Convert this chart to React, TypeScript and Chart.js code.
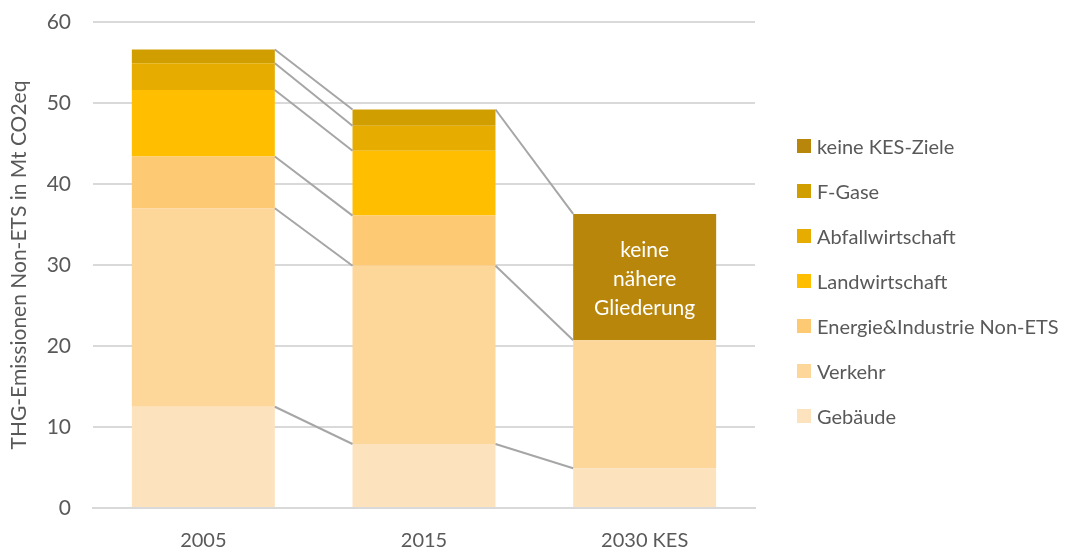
import React, { useEffect, useRef } from "react";
import { Chart, registerables } from "chart.js";

Chart.register(...registerables);

const categories = ["2005", "2015", "2030 KES"];
const seriesNames = [
  "Gebäude",
  "Verkehr",
  "Energie&Industrie Non-ETS",
  "Landwirtschaft",
  "Abfallwirtschaft",
  "F-Gase",
  "keine KES-Ziele",
];
const gebaeude = [12.5, 7.9, 4.9];
const verkehr = [24.5, 22.0, 15.8];
const energieIndustrie = [6.4, 6.2, 0];
const landwirtschaft = [8.2, 8.0, 0];
const abfallwirtschaft = [3.3, 3.1, 0];
const fGase = [1.7, 2.0, 0];
const keineKesZiele = [0, 0, 15.6];
const seriesValues = [gebaeude, verkehr, energieIndustrie, landwirtschaft, abfallwirtschaft, fGase, keineKesZiele];
const seriesColors = ["#FDE2BE", "#FDD69A", "#FDC973", "#FFBF00", "#E6AC00", "#D19E00", "#B8860B"];
const innerLabelLines = ["keine", "nähere", "Gliederung"];
const yAxisTitle = "THG-Emissionen Non-ETS in Mt CO2eq";
const yMin = 0;
const yMax = 60;
const yStep = 10;

const FONT = "Lato, 'Open Sans', sans-serif";
const TEXT = "#595959";

const connectorPlugin = {
  id: "connectors",
  afterDatasetsDraw(chart: any) {
    const ctx = chart.ctx;
    const y = chart.scales.y;
    const metas = seriesValues.map((_, k) => chart.getDatasetMeta(k));
    const n = categories.length;
    const cum = (k: number, i: number) => {
      let s = 0;
      for (let j = 0; j <= k; j++) s += seriesValues[j][i];
      return s;
    };
    const total = (i: number) => cum(seriesValues.length - 1, i);
    ctx.save();
    ctx.strokeStyle = "#A6A6A6";
    ctx.lineWidth = 2;
    for (let i = 0; i < n - 1; i++) {
      const a = metas[0].data[i].getProps(["x", "width"], true);
      const b = metas[0].data[i + 1].getProps(["x", "width"], true);
      const x1 = a.x + a.width / 2;
      const x2 = b.x - b.width / 2;
      const pairs: [number, number][] = [];
      for (let k = 0; k < seriesValues.length; k++) {
        if (seriesValues[k][i] > 0 && seriesValues[k][i + 1] > 0) {
          pairs.push([cum(k, i), cum(k, i + 1)]);
        }
      }
      const t: [number, number] = [total(i), total(i + 1)];
      if (!pairs.some((p) => Math.abs(p[0] - t[0]) < 1e-6 && Math.abs(p[1] - t[1]) < 1e-6)) pairs.push(t);
      for (const [v1, v2] of pairs) {
        ctx.beginPath();
        ctx.moveTo(x1, y.getPixelForValue(v1));
        ctx.lineTo(x2, y.getPixelForValue(v2));
        ctx.stroke();
      }
    }
    const kIdx = seriesValues.length - 1;
    const iIdx = keineKesZiele.findIndex((v) => v > 0);
    if (iIdx >= 0) {
      const el = metas[kIdx].data[iIdx].getProps(["x", "y", "base"], true);
      const cy = (el.y + el.base) / 2;
      const lh = 29;
      ctx.fillStyle = "#FFFFFF";
      ctx.font = `21px ${FONT}`;
      ctx.textAlign = "center";
      ctx.textBaseline = "middle";
      innerLabelLines.forEach((line, j) => {
        ctx.fillText(line, el.x, cy + (j - (innerLabelLines.length - 1) / 2) * lh + 2);
      });
    }
    ctx.restore();
  },
};

export default function App() {
  const ref = useRef<HTMLCanvasElement | null>(null);
  useEffect(() => {
    if (!ref.current) return;
    const chart = new Chart(ref.current, {
      type: "bar",
      data: {
        labels: categories,
        datasets: seriesValues.map((vals, k) => ({
          label: seriesNames[k],
          data: vals,
          backgroundColor: seriesColors[k],
          borderWidth: 0,
          barPercentage: 0.648,
          categoryPercentage: 1,
        })),
      },
      options: {
        responsive: false,
        animation: false,
        layout: { padding: { left: 0, right: 331, top: 22, bottom: 0 } },
        plugins: {
          legend: { display: false },
          tooltip: { enabled: false },
        },
        scales: {
          x: {
            stacked: true,
            grid: { display: false, drawTicks: false },
            border: { display: true, color: "#D9D9D9", width: 2 },
            ticks: { color: TEXT, font: { family: FONT, size: 20 }, padding: 21 },
            afterFit: (scale: any) => {
              scale.height = 41;
              scale.paddingLeft = 0;
              scale.paddingRight = 0;
            },
          },
          y: {
            stacked: true,
            min: yMin,
            max: yMax,
            grid: { color: "#D9D9D9", lineWidth: 2, drawTicks: false },
            border: { display: false },
            ticks: { stepSize: yStep, color: TEXT, font: { family: FONT, size: 21 }, padding: 22 },
            title: {
              display: true,
              text: yAxisTitle,
              color: TEXT,
              font: { family: FONT, size: 21 },
              padding: { top: 7, bottom: 0 },
            },
            afterFit: (scale: any) => {
              scale.width = 93;
              scale.paddingTop = 0;
              scale.paddingBottom = 0;
            },
          },
        },
      },
      plugins: [connectorPlugin],
    } as any);
    return () => chart.destroy();
  }, []);

  const legendOrder = seriesNames.map((_, k) => k).reverse();
  return (
    <div style={{ position: "fixed", left: 0, top: 0, width: 1086, height: 549, background: "#fff" }}>
      <canvas ref={ref} width={1086} height={549} style={{ width: 1086, height: 549, display: "block" }} />
      {legendOrder.map((k, j) => (
        <div
          key={k}
          style={{
            position: "absolute",
            left: 797,
            top: 146 + j * 45 - 14,
            height: 28,
            display: "flex",
            alignItems: "center",
            whiteSpace: "nowrap",
            fontFamily: FONT,
            fontSize: 20,
            color: TEXT,
          }}
        >
          <span style={{ display: "inline-block", width: 14, height: 14, background: seriesColors[k], marginRight: 6 }} />
          <span>{seriesNames[k]}</span>
        </div>
      ))}
    </div>
  );
}
